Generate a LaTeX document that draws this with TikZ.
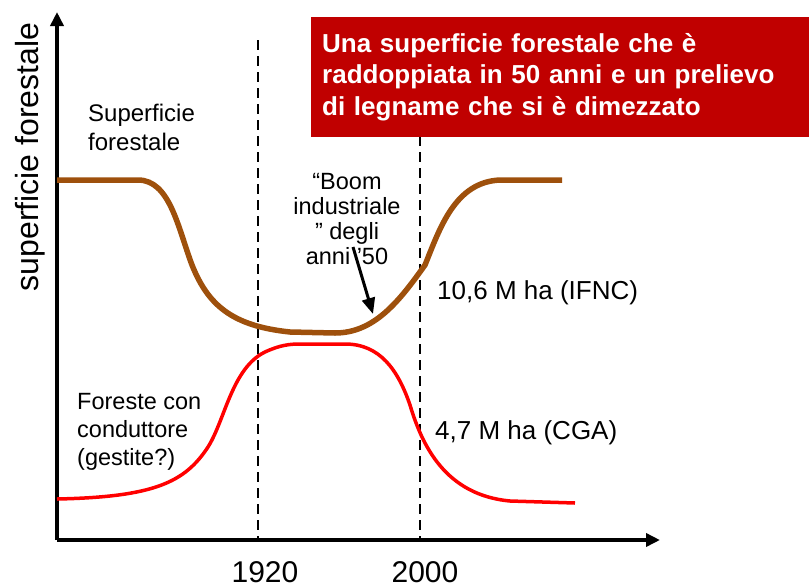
\documentclass[tikz,border=0pt]{standalone}
\usepackage{fontspec}
\setmainfont{Liberation Sans}
\usetikzlibrary{positioning}
\usetikzlibrary{arrows.meta}
\definecolor{legno}{RGB}{158,80,12}
\definecolor{rossotit}{RGB}{192,0,0}
\tikzset{>={Triangle[width=13pt,length=14pt]}}
\tikzset{asse/.style={line width=4pt, ->}}
\tikzset{anno/.style={line width=2pt, dash pattern=on 10pt off 6pt}}
\tikzset{etich/.style={inner sep=0pt, align=left, font=\fontsize{24}{29}\selectfont}}
\tikzset{valore/.style={inner sep=0pt, anchor=west, font=\fontsize{26}{30}\selectfont}}
\tikzset{titbox/.style={fill=rossotit, text=white, align=left, inner xsep=11pt,
    text width=476pt, minimum height=120pt, font=\bfseries\fontsize{26}{31.5}\selectfont}}

\begin{document}
\begin{tikzpicture}[x=1pt, y=-1pt]
\useasboundingbox (0,0) rectangle (809,587);

% linee degli anni
\coordinate (top1920) at (258,40);
\coordinate (bot1920) at (258,538);
\coordinate (top2000) at (420,40);
\coordinate (bot2000) at (420,538);
\draw[anno] (top1920) -- (bot1920);
\draw[anno] (top2000) -- (bot2000);

% assi
\coordinate (O) at (57,540);
\coordinate (ytip) at (57,12);
\coordinate (xtip) at (660,540);
\draw[asse] (O) -- (ytip);
\draw[asse] (O) -- (xtip);

\node[rotate=90, inner sep=0pt, font=\fontsize{32}{36}\selectfont] (ylab) at (30,157) {superficie forestale};
\node[inner sep=0pt, font=\fontsize{30}{34}\selectfont] (y1920) at (265,572) {1920};
\node[inner sep=0pt, font=\fontsize{30}{34}\selectfont] (y2000) at (425,572) {2000};

% superficie forestale
\draw[legno, line width=5.5pt] (57,180) -- (138,180)
  .. controls (170,180) and (178,228) .. (192,265)
  .. controls (208,305) and (232,326) .. (290,332)
  -- (335,333)
  .. controls (375,333) and (400,300) .. (425,265)
  .. controls (440,228) and (455,182) .. (500,180)
  -- (562,180);

% foreste con conduttore
\draw[red, line width=3.5pt] (57,499)
  .. controls (155,497) and (185,482) .. (208,447)
  .. controls (225,420) and (232,368) .. (265,352)
  .. controls (280,345) and (290,344) .. (300,344)
  -- (345,344)
  .. controls (380,344) and (398,370) .. (410,405)
  .. controls (422,445) and (445,495) .. (510,501)
  -- (575,503);

\node[etich, anchor=west] (sup) at (88,127) {Superficie\\forestale};
\node[etich, anchor=west, font=\fontsize{23.5}{28}\selectfont] (gest) at (77,432) {Foreste con\\conduttore\\(gestite?)};

\node[valore] (ifnc) at (437,293) {10,6 M ha (IFNC)};
\node[valore] (cga) at (435,433) {4,7 M ha (CGA)};

\node[inner sep=0pt, align=center, font=\fontsize{23.5}{25}\selectfont] (boom) at (347,219) {“Boom\\industriale\\” degli\\anni ’50};
\coordinate (boomcoda) at (353,247);
\coordinate (boompunta) at (373,314);
\draw[line width=3pt, -{Triangle[width=13pt,length=16pt]}] (boomcoda) -- (boompunta);

\node[titbox, anchor=north west] (tit) at (311,17) {Una superficie forestale che è\\raddoppiata in 50 anni e un prelievo\\di legname che si è dimezzato};
\end{tikzpicture}
\end{document}
